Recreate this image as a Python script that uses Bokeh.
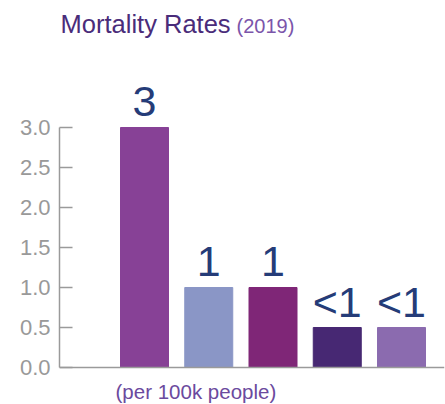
from bokeh.plotting import figure
from bokeh.models import (ColumnDataSource, Label, FixedTicker, Range1d,
                          NumeralTickFormatter)
from bokeh.core.properties import value
from bokeh.embed import file_html
from bokeh.resources import INLINE

# ---- data ----
categories = ["A", "B", "C", "D", "E"]
rates = [3.0, 1.0, 1.0, 0.5, 0.5]
rate_labels = ["3", "1", "1", "<1", "<1"]
bar_colors = ["#874196", "#8A96C6", "#7F2677", "#472873", "#8B6BAF"]
y_ticks = [0.0, 0.5, 1.0, 1.5, 2.0, 2.5, 3.0]
title_main = "Mortality Rates"
title_year = "(2019)"
unit_note = "(per 100k people)"

FONT = "Liberation Sans"

positions = [i + 1 for i in range(len(categories))]
src = ColumnDataSource(dict(x=positions, top=rates, label=rate_labels,
                            color=bar_colors, cat=categories))

W, H = 445, 404
p = figure(width=W, height=H, output_backend="svg", toolbar_location=None,
           x_range=Range1d(-0.323, 5.669), y_range=Range1d(-0.4625, 4.5875),
           min_border_left=59, min_border_right=1, min_border_top=0,
           min_border_bottom=0)
p.outline_line_color = None
p.grid.visible = False
p.background_fill_color = "white"
p.border_fill_color = "white"
p.title.visible = False

p.vbar(x="x", top="top", bottom=0, width=0.747, color="color", source=src)

p.text(x="x", y="top", text="label", source=src, text_align="center",
       text_baseline="alphabetic", y_offset=-26, text_color="#253C78",
       text_font=value(FONT), text_font_size="43px")

# y axis
ya = p.yaxis[0]
ya.ticker = FixedTicker(ticks=y_ticks)
ya.formatter = NumeralTickFormatter(format="0.0")
ya.bounds = (0, 3)
ya.major_tick_in = 13
ya.major_tick_out = 0
ya.minor_tick_line_color = None
ya.axis_line_color = "#9A9A9A"
ya.major_tick_line_color = "#9A9A9A"
ya.axis_line_width = 1.5
ya.major_tick_line_width = 1.5
ya.major_label_standoff = 9
ya.major_label_text_color = "#999999"
ya.major_label_text_font = FONT
ya.major_label_text_font_size = "22px"

# x axis (baseline at y = 0)
xa = p.xaxis[0]
xa.fixed_location = 0
xa.ticker = FixedTicker(ticks=[])
xa.major_tick_out = 0
xa.major_tick_in = 0
xa.minor_tick_line_color = None
xa.axis_line_color = "#9A9A9A"
xa.axis_line_width = 1.5
xa.major_label_text_font_size = "0px"

p.add_layout(Label(x=-0.307, y=4.29, text=title_main, text_color="#4A2C7A",
                   text_font=FONT, text_font_size="25.5px",
                   text_baseline="alphabetic"))
p.add_layout(Label(x=2.432, y=4.27, text=title_year, text_color="#7B55AA",
                   text_font=FONT, text_font_size="20px",
                   text_baseline="alphabetic"))
p.add_layout(Label(x=0.549, y=-0.30, text=unit_note, text_color="#6B4A9E",
                   text_font=FONT, text_font_size="20.5px",
                   text_baseline="alphabetic"))

open("out.html", "w").write(file_html(p, INLINE))
